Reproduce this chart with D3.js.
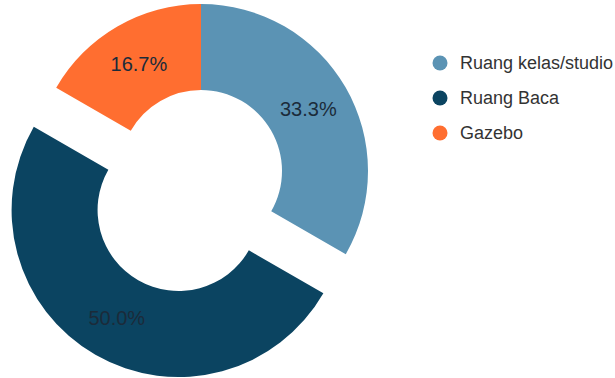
<!DOCTYPE html>
<html>
<head>
<meta charset="utf-8">
<script src="https://cdn.jsdelivr.net/npm/d3@7"></script>
<style>
  body { margin: 0; background: #fff; }
  svg { display: block; font-family: "Liberation Sans", Arial, sans-serif; }
</style>
</head>
<body>
<script>
const width = 615, height = 378;

// data
const categories = ["Ruang kelas/studio", "Ruang Baca", "Gazebo"];
const values = [33.3, 50.0, 16.7];
const colors = ["#5b93b4", "#0b4461", "#ff6e30"];
const exploded = [0, 45, 0];

const cx = 201, cy = 171;
const outerR = 167, innerR = 81;

const svg = d3.select("body").append("svg")
    .attr("width", width)
    .attr("height", height);

const pie = d3.pie().sort(null).value(d => d);
const arc = d3.arc().innerRadius(innerR).outerRadius(outerR);
const arcs = pie(values);

const g = svg.append("g").attr("transform", `translate(${cx},${cy})`);

const slice = g.selectAll("g.slice")
    .data(arcs)
    .enter().append("g")
    .attr("class", "slice")
    .attr("transform", (d, i) => {
        let a = (d.startAngle + d.endAngle) / 2;
        let off = exploded[i];
        return `translate(${off * Math.sin(a)},${-off * Math.cos(a)})`;
    });

slice.append("path")
    .attr("d", arc)
    .attr("fill", (d, i) => colors[i]);

slice.append("text")
    .attr("transform", d => `translate(${arc.centroid(d)})`)
    .attr("text-anchor", "middle")
    .attr("dy", "0.35em")
    .attr("font-size", 20)
    .attr("fill", "#1b2b3a")
    .text(d => d.data.toFixed(1) + "%");

// legend
const legend = svg.append("g").attr("transform", "translate(440,63)");
const item = legend.selectAll("g")
    .data(categories)
    .enter().append("g")
    .attr("transform", (d, i) => `translate(0,${i * 35})`);

item.append("circle")
    .attr("r", 7.5)
    .attr("fill", (d, i) => colors[i]);

item.append("text")
    .attr("x", 20)
    .attr("dy", "0.35em")
    .attr("font-size", 18)
    .attr("fill", "#333")
    .text(d => d);
</script>
</body>
</html>
